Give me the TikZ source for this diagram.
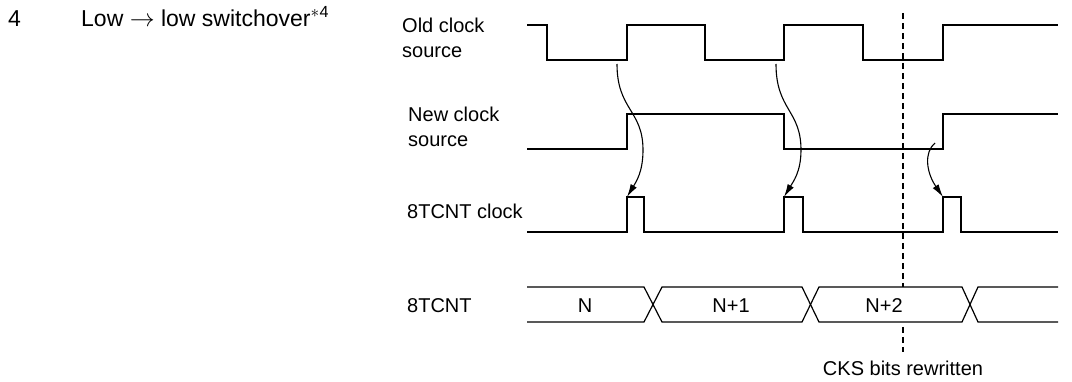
\documentclass[tikz,border=0pt]{standalone}
\usepackage{fontspec}
\setmainfont{Liberation Sans}
\usetikzlibrary{arrows.meta}

\begin{document}
\begin{tikzpicture}[
    x=1pt, y=-1pt,
    font=\fontsize{20}{25}\selectfont,
    lbl/.style={anchor=base west, align=left, inner sep=0pt},
    val/.style={anchor=base, inner sep=0pt},
    wave/.style={line width=2.6pt, line join=miter},
    bus/.style={line width=1.2pt},
    sync/.style={-{Latex[length=13pt,width=7pt]}, line width=1.1pt},
    rewrite/.style={dashed, dash pattern=on 6pt off 4pt, line width=1.1pt}
]
\useasboundingbox (0,0) rectangle (1072,382);

% heading
\node[lbl, font=\fontsize{23}{27}\selectfont] (num) at (8,27) {4};
\node[lbl, font=\fontsize{23}{27}\selectfont] (title) at (81,27) {Low $\rightarrow$ low switchover$^{\ast}$\textsuperscript{4}};

% signal names (base = last line)
\node[lbl] (oldlbl) at (402,58) {Old clock\\source};
\node[lbl] (newlbl) at (408,147) {New clock\\source};
\node[lbl] (clklbl) at (407,219) {8TCNT clock};
\node[lbl] (cntlbl) at (407,313) {8TCNT};

% old clock source
\draw[wave] (527,25) -- (547,25) -- (547,60) -- (627,60) -- (627,25) -- (705,25) -- (705,60)
  -- (784,60) -- (784,25) -- (863,25) -- (863,60) -- (943,60) -- (943,25) -- (1058,25);

% new clock source
\draw[wave] (527,149) -- (627,149) -- (627,114) -- (784,114) -- (784,149) -- (943,149)
  -- (943,114) -- (1058,114);

% 8TCNT clock
\draw[wave] (527,232) -- (627,232) -- (627,197) -- (644,197) -- (644,232) -- (784,232)
  -- (784,197) -- (803,197) -- (803,232) -- (943,232) -- (943,197) -- (961,197)
  -- (961,232) -- (1058,232);

% 8TCNT counter
\draw[bus] (527,287) -- (644,287) -- (662,322) -- (802,322) -- (819,287) -- (962,287)
  -- (978,322) -- (1058,322);
\draw[bus] (527,322) -- (644,322) -- (662,287) -- (802,287) -- (819,322) -- (962,322)
  -- (978,287) -- (1058,287);
\node[val] (n0) at (585,313) {N};
\node[val] (n1) at (731,313) {N+1};
\node[val] (n2) at (884,313) {N+2};

% CKS write
\coordinate (cktop) at (903,13);
\coordinate (ckup) at (903,287);
\coordinate (cklow) at (903,327);
\coordinate (ckbot) at (903,352);
\draw[rewrite] (cktop) -- (ckup);
\draw[rewrite] (cklow) -- (ckbot);
\node[val] (cks) at (903,375) {CKS bits rewritten};

% edge relations
\coordinate (src1) at (617,64);
\coordinate (src2) at (776,64);
\coordinate (src3) at (935,143);
\coordinate (pls1) at (627,197);
\coordinate (pls2) at (784,197);
\coordinate (pls3) at (943,197);
\draw[sync] (src1) .. controls (617,110) and (643,110) .. (643,150)
  .. controls (643,172) and (636,182) .. (pls1);
\draw[sync] (src2) .. controls (776,110) and (801,110) .. (801,150)
  .. controls (801,172) and (793,182) .. (pls2);
\draw[sync] (src3) .. controls (924,152) and (926,172) .. (pls3);
\end{tikzpicture}
\end{document}
